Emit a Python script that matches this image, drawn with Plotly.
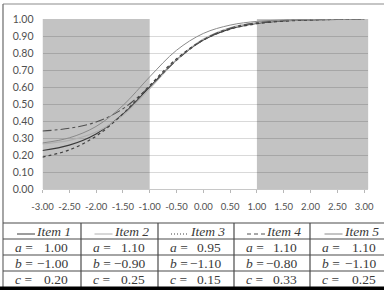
import plotly.graph_objects as go

# ---------------- data ----------------
theta = [-3.0, -2.5, -2.0, -1.5, -1.0, -0.5, 0.0, 0.5, 1.0, 1.5, 2.0, 2.5, 3.0]
item_names = ["Item 1", "Item 2", "Item 3", "Item 4", "Item 5"]
a_vals = [1.00, 1.10, 0.95, 1.10, 1.10]
b_vals = [-1.00, -0.90, -1.10, -0.80, -1.10]
c_vals = [0.20, 0.25, 0.15, 0.33, 0.25]

p_item1 = [0.226, 0.258, 0.324, 0.440, 0.600, 0.760, 0.876, 0.942, 0.974, 0.989, 0.995, 0.998, 0.999]
p_item2 = [0.265, 0.286, 0.335, 0.434, 0.590, 0.759, 0.882, 0.949, 0.979, 0.992, 0.997, 0.999, 0.9995]
p_item3 = [0.188, 0.230, 0.311, 0.442, 0.609, 0.766, 0.877, 0.940, 0.972, 0.987, 0.994, 0.9975, 0.999]
p_item4 = [0.341, 0.357, 0.394, 0.472, 0.603, 0.757, 0.877, 0.946, 0.978, 0.991, 0.9965, 0.9986, 0.9995]
p_item5 = [0.271, 0.301, 0.368, 0.491, 0.660, 0.816, 0.915, 0.964, 0.986, 0.994, 0.998, 0.999, 0.9996]
series = [p_item1, p_item2, p_item3, p_item4, p_item5]

shade_ranges = [(-3.0, -1.0), (1.0, 3.08)]

x_tickvals = [-3.0, -2.5, -2.0, -1.5, -1.0, -0.5, 0.0, 0.5, 1.0, 1.5, 2.0, 2.5, 3.0]
x_ticktext = ["-3.00", "-2.50", "-2.00", "-1.50", "-1.00", "-0.50", "0.00",
              "0.50", "1.00", "1.50", "2.00", "2.50", "3.00"]
y_tickvals = [0.0, 0.1, 0.2, 0.3, 0.4, 0.5, 0.6, 0.7, 0.8, 0.9, 1.0]
y_ticktext = ["0.00", "0.10", "0.20", "0.30", "0.40", "0.50", "0.60",
              "0.70", "0.80", "0.90", "1.00"]

# ---------------- styles ----------------
line_colors = ["#3a3a3a", "#b0b0b0", "#404040", "#505050", "#8a8a8a"]
line_dashes = ["solid", "solid", "dot", "dashdot", "solid"]
header_dashes = ["solid", "solid", "1px,2px", "4px,3px", "solid"]
line_widths = [1.1, 1.1, 1.2, 1.1, 1.0]

W, H = 384, 290


def X(px):
    return px / W


def Y(py):
    return 1 - py / H


fig = go.Figure()
for name, ys, col, dash, lw in zip(item_names, series, line_colors, line_dashes, line_widths):
    fig.add_trace(go.Scatter(x=theta, y=ys, mode="lines", name=name,
                             line=dict(color=col, dash=dash, width=lw, shape="spline"),
                             showlegend=False))

shapes = []
for x0, x1 in shade_ranges:
    shapes.append(dict(type="rect", xref="x", yref="y", x0=x0, x1=x1, y0=0, y1=1,
                       fillcolor="rgba(0,0,0,0.235)", line=dict(width=0), layer="between"))

# outer border
shapes.append(dict(type="line", xref="paper", yref="paper", x0=X(3), x1=X(384), y0=Y(4), y1=Y(4),
                   line=dict(color="#8c8c8c", width=1.2)))
shapes.append(dict(type="line", xref="paper", yref="paper", x0=X(3), x1=X(3), y0=Y(4), y1=Y(287),
                   line=dict(color="#6a6a6a", width=1.2)))

# table grid
cols = [3, 81, 158, 234, 310, 389]
rows = [223, 239, 255, 271, 287]
for r in rows[:-1]:
    shapes.append(dict(type="line", xref="paper", yref="paper", x0=X(3), x1=X(384), y0=Y(r), y1=Y(r),
                       line=dict(color="#4a4a4a", width=1.2)))
for c in cols[1:-1]:
    shapes.append(dict(type="line", xref="paper", yref="paper", x0=X(c), x1=X(c), y0=Y(rows[0]), y1=Y(rows[-1]),
                       line=dict(color="#4a4a4a", width=1.2)))
# bottom black band
shapes.append(dict(type="rect", xref="paper", yref="paper", x0=0, x1=1, y0=0, y1=Y(286.5),
                   fillcolor="#000000", line=dict(width=0)))

annotations = []
tfont = dict(family="Liberation Serif, Times New Roman, serif", size=13.5, color="#3a3a3a")


def fmt(v):
    s = f"{v:.2f}"
    return s.replace("-", "\u2212")


for i, name in enumerate(item_names):
    c0, c1 = cols[i], cols[i + 1]
    cx = (c0 + c1) / 2
    ymid = (rows[0] + rows[1]) / 2
    # legend sample
    shapes.append(dict(type="line", xref="paper", yref="paper", x0=X(cx - 25), x1=X(cx - 7),
                       y0=Y(ymid + 3), y1=Y(ymid + 3),
                       line=dict(color=line_colors[i], dash=header_dashes[i], width=1)))
    annotations.append(dict(x=X(cx - 8), y=Y(ymid), xref="paper", yref="paper",
                            text=f"<i>{name}</i>", showarrow=False, xanchor="left",
                            yanchor="middle", font=tfont))
    for j, (lab, val) in enumerate([("a", a_vals[i]), ("b", b_vals[i]), ("c", c_vals[i])]):
        ym = (rows[j + 1] + rows[j + 2]) / 2
        annotations.append(dict(x=X(c0 + 10), y=Y(ym), xref="paper", yref="paper",
                                text=f"<i>{lab}</i> =", showarrow=False, xanchor="left",
                                yanchor="middle", font=tfont))
        annotations.append(dict(x=X(c1 - 11), y=Y(ym), xref="paper", yref="paper",
                                text=fmt(val), showarrow=False, xanchor="right",
                                yanchor="middle", font=tfont))

tickfont = dict(family="Lato, Open Sans, sans-serif", size=9.5, color="#505050")

fig.update_layout(
    width=W, height=H,
    margin=dict(l=0, r=0, t=0, b=0, autoexpand=False),
    paper_bgcolor="white", plot_bgcolor="white",
    shapes=shapes, annotations=annotations,
    xaxis=dict(domain=[42.5 / W, 368.4 / W], range=[-3.0, 3.08], automargin=False,
               tickvals=x_tickvals, ticktext=x_ticktext, tickfont=tickfont,
               showgrid=False, zeroline=False, showline=True, linecolor="#c8c8c8",
               ticks="outside", ticklen=3, tickcolor="#b8b8b8", tickangle=0,
               ticklabelstandoff=6),
    yaxis=dict(domain=[Y(189), Y(19)], range=[0, 1], automargin=False,
               tickvals=y_tickvals, ticktext=y_ticktext,
               tickfont=dict(family="Lato, Open Sans, sans-serif", size=10.5, color="#505050"),
               showgrid=True, gridcolor="#d9d9d9", gridwidth=1.2, zeroline=False,
               showline=False, ticks="", ticklabelstandoff=8),
)

fig.write_html("out.html")
